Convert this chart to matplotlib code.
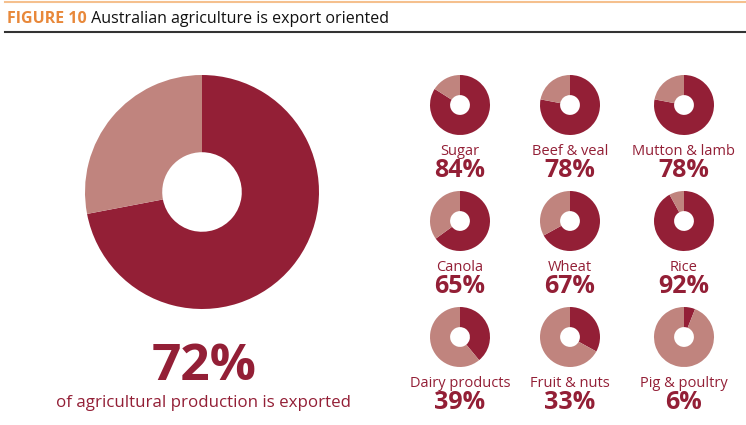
import matplotlib.pyplot as plt
from matplotlib.lines import Line2D

# data
total_label = "of agricultural production is exported"
total_share = 72
categories = ['Sugar', 'Beef & veal', 'Mutton & lamb',
              'Canola', 'Wheat', 'Rice',
              'Dairy products', 'Fruit & nuts', 'Pig & poultry']
shares = [84, 78, 78, 65, 67, 92, 39, 33, 6]

dark = '#931F36'
light = '#C0847E'
orange = '#E8883A'

plt.rcParams['font.family'] = ['Open Sans', 'DejaVu Sans']

W, H = 746, 425
fig = plt.figure(figsize=(W / 100, H / 100), dpi=100)
ax = fig.add_axes([0, 0, 1, 1])


def py(y):
    # pixel row (from top) -> data y
    return H - y


def donut(cx, cy, r, share, hole=0.34):
    ax.pie([share, 100 - share], colors=[dark, light], startangle=90,
           counterclock=False, center=(cx, py(cy)), radius=r,
           wedgeprops=dict(width=r * (1 - hole), linewidth=0))


# big donut
donut(202, 192, 117, total_share)
ax.text(204, py(367), f'{total_share}%', ha='center', va='center',
        fontsize=37, fontweight='bold', color=dark)
ax.text(204, py(403), total_label, ha='center', va='center',
        fontsize=12.2, color=dark)

# small donuts, 3x3 grid
col_x = [460, 570, 684]
row_y = [105, 221, 337]
for i, (name, val) in enumerate(zip(categories, shares)):
    cx = col_x[i % 3]
    cy = row_y[i // 3]
    donut(cx, cy, 30, val, hole=0.33)
    ax.text(cx, py(cy + 50), name, ha='center', va='baseline',
            fontsize=10.5, color=dark)
    ax.text(cx, py(cy + 72), f'{val}%', ha='center', va='baseline',
            fontsize=18, fontweight='bold', color=dark)

# header
ax.add_line(Line2D([5, W], [py(1.5), py(1.5)], color='#F5C08E', linewidth=1.5))
ax.add_line(Line2D([5, W], [py(31.5), py(31.5)], color='#333333', linewidth=1.5))
t1 = ax.text(7, py(23), 'FIGURE 10', ha='left', va='baseline',
             fontsize=11.5, fontweight='bold', color=orange)
ax.annotate(' Australian agriculture is export oriented', xy=(1, 0),
            xycoords=t1, ha='left', va='bottom', fontsize=11.5, color='#111111')

ax.set_xlim(0, W)
ax.set_ylim(0, H)
ax.set_aspect('equal')
ax.axis('off')

fig.savefig('out.png', dpi=100)
